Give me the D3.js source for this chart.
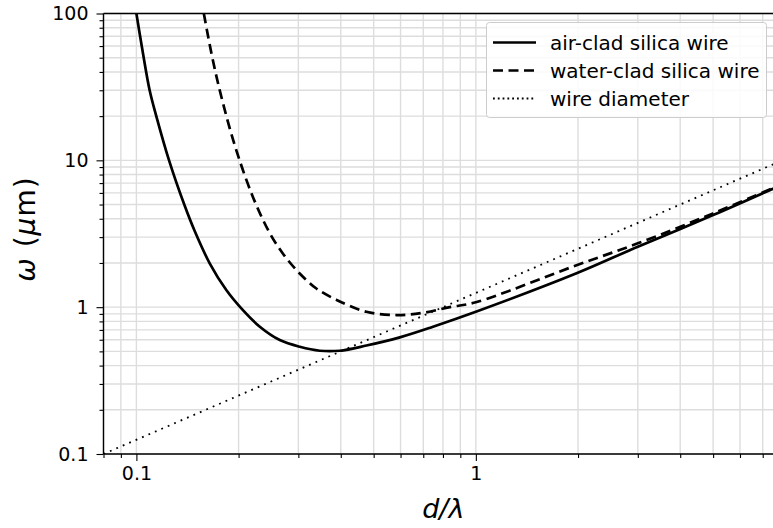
<!DOCTYPE html>
<html>
<head>
<meta charset="utf-8">
<script src="https://cdn.jsdelivr.net/npm/d3@7"></script>
<style>
  html, body { margin: 0; padding: 0; background: #fff; }
  svg { display: block; font-family: "DejaVu Sans", sans-serif; }
</style>
</head>
<body>
<svg id="chart" width="773" height="528"></svg>
<script>
// ---- data ----
const airX = [0.1, 0.1034, 0.1094, 0.1146, 0.1248, 0.1388, 0.1485, 0.1644, 0.184, 0.206, 0.231, 0.2645, 0.303, 0.347, 0.397, 0.476, 0.597, 0.748, 1.0, 1.98, 3.0, 5.0, 8.0];
const airW = [100, 62.5, 30, 19.8, 10, 4.9, 3.3, 1.99, 1.31, 0.955, 0.736, 0.597, 0.537, 0.505, 0.505, 0.548, 0.623, 0.736, 0.93, 1.70, 2.58, 4.24, 6.85];
const waterX = [0.158, 0.168, 0.180, 0.197, 0.221, 0.247, 0.270, 0.296, 0.317, 0.339, 0.389, 0.476, 0.584, 0.70, 0.838, 1.0, 1.98, 3.0, 5.0, 8.0];
const waterW = [100, 48, 24.4, 11.7, 5.55, 3.2, 2.32, 1.79, 1.53, 1.34, 1.12, 0.93, 0.884, 0.916, 1.0, 1.08, 1.93, 2.72, 4.35, 6.9];
const diamX = [0.08, 8];
const diamW = [0.1, 10];
const xMajorTicks = [0.1, 1];
const xTickLabels = ["0.1", "1"];
const yMajorTicks = [0.1, 1, 10, 100];
const yTickLabels = ["0.1", "1", "10", "100"];
const legendLabels = ["air-clad silica wire", "water-clad silica wire", "wire diameter"];

// ---- layout ----
const svg = d3.select("#chart");
const L = 103.5, T = 13.5, B = 454, R = 782.4;
const x = d3.scaleLog().domain([0.08, 8]).range([L, R]);
const y = d3.scaleLog().domain([0.1, 100]).range([B, T]);

// minor tick values
const xMinor = [];
[0.01, 0.1, 1].forEach(d => { for (let k = 2; k <= 9; k++) { const v = +(k * d).toPrecision(3); if (v >= 0.08 && v <= 8) xMinor.push(v); } });
const yMinor = [];
[0.1, 1, 10].forEach(d => { for (let k = 2; k <= 9; k++) yMinor.push(+(k * d).toPrecision(3)); });

// grid
const grid = svg.append("g").attr("stroke", "#dddddd").attr("stroke-width", 1.4);
xMinor.concat(xMajorTicks).forEach(v => {
  grid.append("line").attr("x1", x(v)).attr("x2", x(v)).attr("y1", T).attr("y2", B);
});
yMinor.concat(yMajorTicks).forEach(v => {
  grid.append("line").attr("y1", y(v)).attr("y2", y(v)).attr("x1", L).attr("x2", R);
});

// clip
svg.append("clipPath").attr("id", "clip").append("rect")
  .attr("x", L).attr("y", T).attr("width", R - L).attr("height", B - T);

const plot = svg.append("g").attr("clip-path", "url(#clip)");
const curveLine = d3.line().x(d => x(d[0])).y(d => y(d[1])).curve(d3.curveCatmullRom.alpha(0.5));

plot.append("path").datum(diamX.map((v, i) => [v, diamW[i]]))
  .attr("d", d3.line().x(d => x(d[0])).y(d => y(d[1])))
  .attr("fill", "none").attr("stroke", "#000").attr("stroke-width", 1.8)
  .attr("stroke-dasharray", "1.8,5.2");

plot.append("path").datum(waterX.map((v, i) => [v, waterW[i]]))
  .attr("d", curveLine)
  .attr("fill", "none").attr("stroke", "#000").attr("stroke-width", 2.7)
  .attr("stroke-dasharray", "10,5.5");

plot.append("path").datum(airX.map((v, i) => [v, airW[i]]))
  .attr("d", curveLine)
  .attr("fill", "none").attr("stroke", "#000").attr("stroke-width", 2.7);

// axes
const xAxis = d3.axisBottom(x).tickValues(xMajorTicks).tickFormat((d, i) => xTickLabels[i]).tickSize(7).tickPadding(6);
const xAxisMinor = d3.axisBottom(x).tickValues(xMinor).tickFormat("").tickSize(4);
const yAxis = d3.axisLeft(y).tickValues(yMajorTicks).tickFormat((d, i) => yTickLabels[i]).tickSize(7).tickPadding(8);
const yAxisMinor = d3.axisLeft(y).tickValues(yMinor).tickFormat("").tickSize(4);

function styleAxis(g) {
  g.select(".domain").remove();
  g.selectAll("line").attr("stroke", "#000").attr("stroke-width", 1.1);
  g.selectAll("text").attr("font-family", "DejaVu Sans").attr("font-size", 19).attr("fill", "#000");
}
svg.append("g").attr("transform", `translate(0,${B})`).call(xAxisMinor).call(styleAxis);
svg.append("g").attr("transform", `translate(0,${B})`).call(xAxis).call(styleAxis);
svg.append("g").attr("transform", `translate(${L},0)`).call(yAxisMinor).call(styleAxis);
svg.append("g").attr("transform", `translate(${L},0)`).call(yAxis).call(styleAxis);

// spines
const sp = svg.append("g").attr("stroke", "#000").attr("stroke-width", 1.4);
sp.append("line").attr("x1", L).attr("x2", L).attr("y1", T).attr("y2", B);
sp.append("line").attr("x1", L).attr("x2", R).attr("y1", B).attr("y2", B);
sp.append("line").attr("x1", L).attr("x2", R).attr("y1", T).attr("y2", T);

// axis labels
svg.append("text").attr("x", (L + 773) / 2 + 5).attr("y", 518)
  .attr("text-anchor", "middle").attr("font-size", 27).attr("font-style", "italic")
  .text("d/λ");
const yl = svg.append("text").attr("transform", `translate(35,229) rotate(-90)`)
  .attr("text-anchor", "middle").attr("font-size", 28).attr("letter-spacing", 1);
yl.append("tspan").attr("font-style", "italic").text("ω");
yl.append("tspan").text(" (");
yl.append("tspan").attr("font-style", "italic").text("μ");
yl.append("tspan").text("m)");

// legend
const lg = svg.append("g");
lg.append("rect").attr("x", 486.5).attr("y", 22.5).attr("width", 280).attr("height", 95)
  .attr("rx", 3).attr("fill", "#fff").attr("fill-opacity", 0.85)
  .attr("stroke", "#cccccc").attr("stroke-width", 1);
const styles = [
  { w: 2.7, dash: null },
  { w: 2.7, dash: "10,5.5" },
  { w: 1.8, dash: "1.8,3" }
];
legendLabels.forEach((lab, i) => {
  const yy = 42.5 + i * 28;
  const l = lg.append("line").attr("x1", 493).attr("x2", 536).attr("y1", yy).attr("y2", yy)
    .attr("stroke", "#000").attr("stroke-width", styles[i].w);
  if (styles[i].dash) l.attr("stroke-dasharray", styles[i].dash);
  lg.append("text").attr("x", 550).attr("y", yy + 7).attr("font-size", 20).text(lab);
});
</script>
</body>
</html>
